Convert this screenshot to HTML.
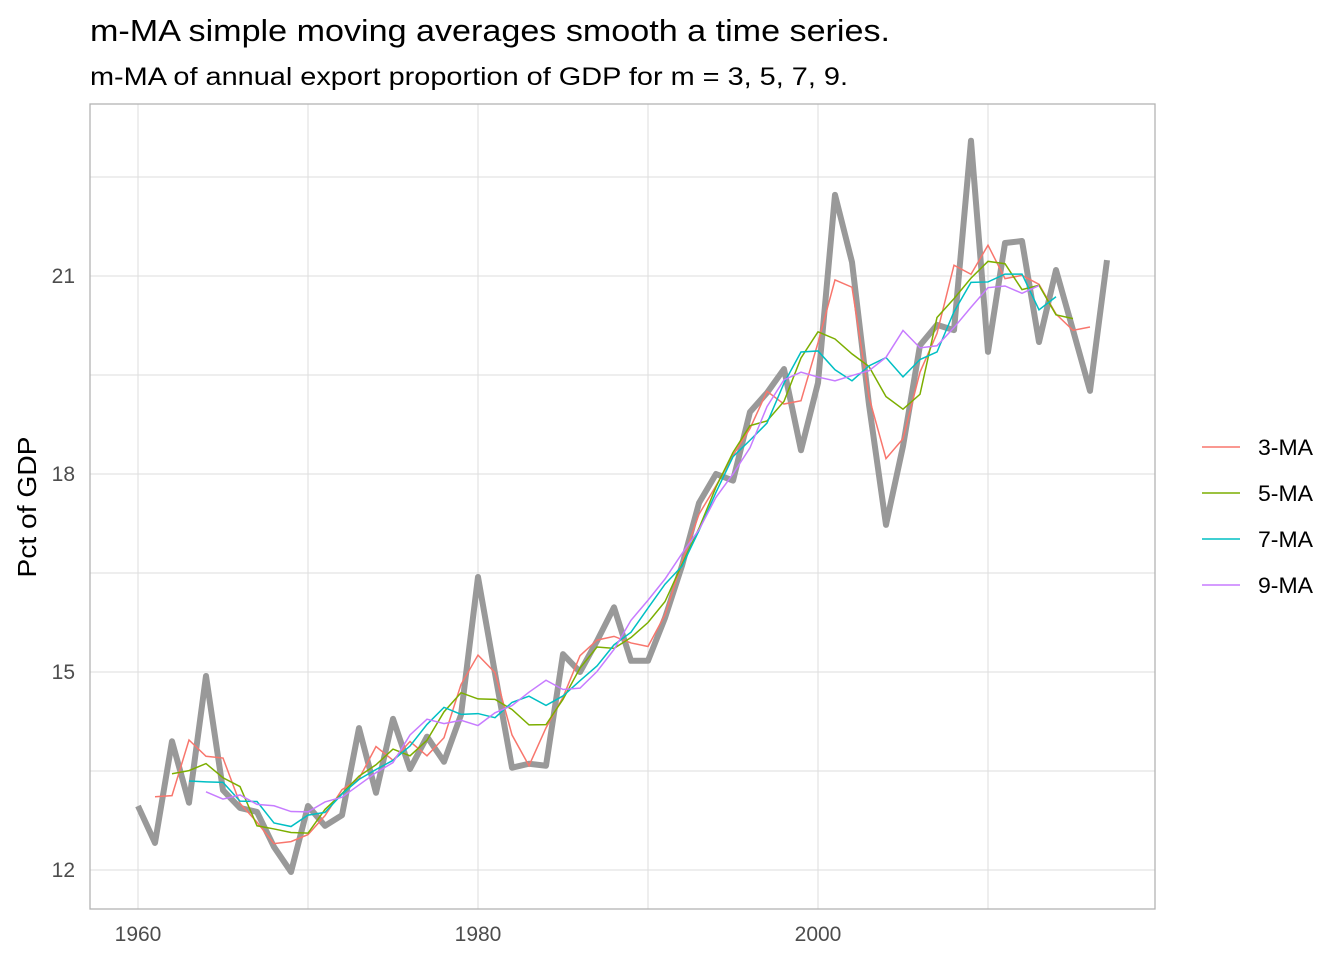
<!DOCTYPE html>
<html><head><meta charset="utf-8"><style>
body{margin:0;background:#fff;font-family:"Liberation Sans",Arial,sans-serif}
</style></head><body>
<svg id="c" width="1344" height="960" xmlns="http://www.w3.org/2000/svg">
<text x="90" y="41" font-size="31" textLength="800" lengthAdjust="spacingAndGlyphs" fill="#000">m-MA simple moving averages smooth a time series.</text>
<text x="90" y="85" font-size="25" textLength="758" lengthAdjust="spacingAndGlyphs" fill="#000">m-MA of annual export proportion of GDP for m = 3, 5, 7, 9.</text>
<text transform="translate(36,507) rotate(-90)" font-size="26" textLength="141" lengthAdjust="spacingAndGlyphs" text-anchor="middle" fill="#000">Pct of GDP</text>
<g id="grid"></g><g id="marks"></g><g id="axes"></g><g id="legend"></g>
</svg>
<script>
const years=[1960,1961,1962,1963,1964,1965,1966,1967,1968,1969,1970,1971,1972,1973,1974,1975,1976,1977,1978,1979,1980,1981,1982,1983,1984,1985,1986,1987,1988,1989,1990,1991,1992,1993,1994,1995,1996,1997,1998,1999,2000,2001,2002,2003,2004,2005,2006,2007,2008,2009,2010,2011,2012,2013,2014,2015,2016,2017];
const exportsPct=[12.97,12.41,13.95,13.02,14.94,13.21,12.94,12.88,12.35,11.97,12.97,12.67,12.83,14.15,13.17,14.29,13.53,14.02,13.64,14.35,16.44,14.98,13.55,13.61,13.58,15.27,15.0,15.47,15.98,15.17,15.17,15.82,16.61,17.56,18.0,17.9,18.94,19.23,19.59,18.36,19.38,22.23,21.21,19.05,17.23,18.42,19.95,20.26,20.18,23.05,19.85,21.5,21.53,20.0,21.09,20.18,19.26,21.24];
const windows=[3,5,7,9];
const seriesNames=["3-MA","5-MA","7-MA","9-MA"];
const colors=["#F8766D","#7CAE00","#00BFC4","#C77CFF"];
const xTicks=[1960,1980,2000];
const xMinor=[1970,1990,2010];
const yTicks=[12,15,18,21];
const yMinor=[13.5,16.5,19.5,22.5];

const NS="http://www.w3.org/2000/svg";
const L=90,R=1155,T=104,B=909;
const xs=y=>138+(y-1960)*(818-138)/40;
const ys=v=>870-(v-12)*66;
function mk(tag,attrs,parent){const e=document.createElementNS(NS,tag);for(const k in attrs)e.setAttribute(k,attrs[k]);parent.appendChild(e);return e;}
const grid=document.getElementById('grid'),marks=document.getElementById('marks'),axes=document.getElementById('axes'),legend=document.getElementById('legend');
mk('rect',{x:L,y:T,width:R-L,height:B-T,fill:'#fff'},grid);
[...xTicks,...xMinor].forEach(t=>{const l=mk('line',{x1:xs(t),x2:xs(t),y1:T,y2:B,stroke:'#dedede','stroke-width':1},grid);

});
[...yTicks,...yMinor].forEach(t=>{const l=mk('line',{x1:L,x2:R,y1:ys(t),y2:ys(t),stroke:'#dedede','stroke-width':1},grid);

});
const border=mk('rect',{x:L,y:T,width:R-L,height:B-T,fill:'none',stroke:'#b3b3b3','stroke-width':1.3},axes);


xTicks.forEach(t=>{const tx=mk('text',{x:xs(t),y:941,'font-size':21,fill:'#4d4d4d','text-anchor':'middle'},axes);tx.textContent=t;

});
yTicks.forEach(t=>{const tx=mk('text',{x:75,y:ys(t)+7,'font-size':21,fill:'#4d4d4d','text-anchor':'end'},axes);tx.textContent=t;

});
const raw=mk('polyline',{points:years.map((y,i)=>xs(y)+','+ys(exportsPct[i])).join(' '),fill:'none',stroke:'#999','stroke-width':6,'stroke-linejoin':'round'},marks);


windows.forEach((m,k)=>{const h=(m-1)/2,pts=[];
for(let i=h;i<exportsPct.length-h;i++){let s=0;for(let j=i-h;j<=i+h;j++)s+=exportsPct[j];pts.push(xs(years[i])+','+ys(s/m));}
const p=mk('polyline',{points:pts.join(' '),fill:'none',stroke:colors[k],'stroke-width':1.5},marks);


const ly=447+k*46;
const ll=mk('line',{x1:1202,x2:1240,y1:ly,y2:ly,stroke:colors[k],'stroke-width':1.5},legend);


const lt=mk('text',{x:1258,y:ly+8,'font-size':22,fill:'#000',textLength:55,lengthAdjust:'spacingAndGlyphs'},legend);lt.textContent=seriesNames[k];

});
</script>
</body></html>
